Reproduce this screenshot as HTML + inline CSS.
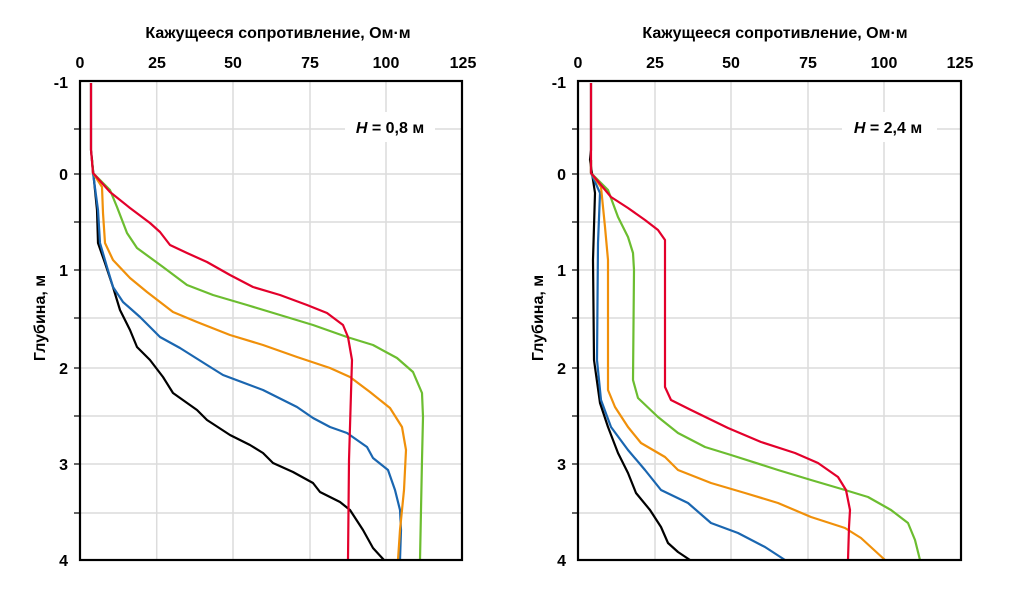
<!DOCTYPE html>
<html><head><meta charset="utf-8"><style>
body{margin:0;background:#fff}
svg{display:block}
text{font-family:"Liberation Sans",sans-serif;fill:#000}
</style></head><body>
<svg width="1022" height="594" viewBox="0 0 1022 594">
<g stroke="#dcdcdc" stroke-width="1.5">
<line x1="156.7" y1="81" x2="156.7" y2="560"/><line x1="233" y1="81" x2="233" y2="560"/><line x1="310" y1="81" x2="310" y2="560"/><line x1="386" y1="81" x2="386" y2="560"/>
<line x1="80" y1="129" x2="462" y2="129"/><line x1="80" y1="174" x2="462" y2="174"/><line x1="80" y1="222" x2="462" y2="222"/><line x1="80" y1="270" x2="462" y2="270"/><line x1="80" y1="318" x2="462" y2="318"/><line x1="80" y1="368" x2="462" y2="368"/><line x1="80" y1="416" x2="462" y2="416"/><line x1="80" y1="464" x2="462" y2="464"/><line x1="80" y1="513" x2="462" y2="513"/>
<line x1="578" y1="129" x2="961" y2="129"/><line x1="578" y1="174" x2="961" y2="174"/><line x1="578" y1="222" x2="961" y2="222"/><line x1="578" y1="270" x2="961" y2="270"/><line x1="578" y1="318" x2="961" y2="318"/><line x1="578" y1="368" x2="961" y2="368"/><line x1="578" y1="416" x2="961" y2="416"/><line x1="578" y1="464" x2="961" y2="464"/><line x1="578" y1="513" x2="961" y2="513"/>
<line x1="655" y1="81" x2="655" y2="560"/><line x1="731" y1="81" x2="731" y2="560"/><line x1="808" y1="81" x2="808" y2="560"/><line x1="884" y1="81" x2="884" y2="560"/>
</g>
<rect x="345" y="112" width="90" height="30" fill="#fff"/>
<rect x="842" y="112" width="95" height="30" fill="#fff"/>
<text x="390" y="133" font-size="16" font-weight="bold" text-anchor="middle"><tspan font-style="italic">H</tspan> = 0,8 м</text>
<text x="888" y="133" font-size="16" font-weight="bold" text-anchor="middle"><tspan font-style="italic">H</tspan> = 2,4 м</text>

<g fill="none" stroke-width="2.2" stroke-linejoin="round">
<polyline stroke="#000" points="91,83 91,150 92,160 97,210 98,243 105,263 113,287 120,310 130,330 137,347 150,360 163,377 173,393 197,410 207,420 230,435 250,445 263,453 273,463 293,472 313,483 320,492 340,502 350,510 363,530 373,548 384,560"/>
<polyline stroke="#1a66b0" points="92,160 93,173 98,210 100,243 107,267 113,287 123,302 140,317 160,337 180,348 207,365 223,375 263,390 297,407 313,418 330,427 347,433 367,447 373,458 388,470 395,490 400,510 401,530 400,560"/>
<polyline stroke="#f0900a" points="92,160 93,173 102,187 103,213 105,243 113,260 130,278 147,292 160,302 173,312 197,322 230,335 263,345 297,357 330,368 350,377 370,392 390,408 402,427 406,450 404,490 400,530 398,560"/>
<polyline stroke="#6cbd30" points="92,160 93,173 110,190 117,207 127,233 137,248 163,267 187,285 213,295 247,305 280,315 313,325 347,337 373,345 397,358 413,372 422,393 423,417 422,460 420,560"/>
<polyline stroke="#e3002b" points="91,83 91,150 93,173 110,192 130,208 150,223 160,232 170,245 187,253 207,262 230,275 253,287 280,295 307,305 327,313 343,325 348,337 352,360 351,393 349,460 348,560"/>

<polyline stroke="#000" points="591,83 591,150 590,160 595,193 593,260 594,360 600,403 608,427 618,453 628,473 636,493 650,510 661,527 668,543 678,552 690,560"/>
<polyline stroke="#1a66b0" points="591,160 591,173 600,193 598,243 597,360 601,400 611,427 628,450 645,470 661,490 688,503 711,523 738,533 765,547 785,560"/>
<polyline stroke="#f0900a" points="591,160 591,173 601,187 605,227 608,260 608,390 615,407 628,427 641,443 665,457 678,470 711,483 745,493 778,503 811,517 845,528 861,538 885,560"/>
<polyline stroke="#6cbd30" points="591,160 591,173 608,190 618,217 628,237 633,253 634,270 633,380 638,398 658,417 678,433 705,447 731,455 778,470 811,480 845,490 868,497 891,510 908,523 915,540 920,560"/>
<polyline stroke="#e3002b" points="591,83 591,150 591,173 611,197 628,208 645,220 658,230 665,240 665,260 665,387 671,400 691,410 728,428 761,442 795,453 818,463 838,477 846,490 850,510 849,527 848,560"/>
</g>

<g fill="none" stroke="#000" stroke-width="2.2">
<rect x="80" y="81" width="382" height="479"/>
<rect x="578" y="81" width="383" height="479"/>
</g>
<g stroke="#000" stroke-width="1.2">
<line x1="74" y1="129" x2="80" y2="129"/><line x1="74" y1="174" x2="80" y2="174"/><line x1="74" y1="222" x2="80" y2="222"/><line x1="74" y1="270" x2="80" y2="270"/><line x1="74" y1="318" x2="80" y2="318"/><line x1="74" y1="368" x2="80" y2="368"/><line x1="74" y1="416" x2="80" y2="416"/><line x1="74" y1="464" x2="80" y2="464"/><line x1="74" y1="513" x2="80" y2="513"/>
<line x1="572" y1="129" x2="578" y2="129"/><line x1="572" y1="174" x2="578" y2="174"/><line x1="572" y1="222" x2="578" y2="222"/><line x1="572" y1="270" x2="578" y2="270"/><line x1="572" y1="318" x2="578" y2="318"/><line x1="572" y1="368" x2="578" y2="368"/><line x1="572" y1="416" x2="578" y2="416"/><line x1="572" y1="464" x2="578" y2="464"/><line x1="572" y1="513" x2="578" y2="513"/>
</g>
<g font-size="16" font-weight="bold" text-anchor="middle">
<text x="80" y="68">0</text><text x="157" y="68">25</text><text x="233" y="68">50</text><text x="310" y="68">75</text><text x="386" y="68">100</text><text x="463" y="68">125</text>
<text x="578" y="68">0</text><text x="655" y="68">25</text><text x="731" y="68">50</text><text x="808" y="68">75</text><text x="884" y="68">100</text><text x="960" y="68">125</text>
<text x="278" y="38">Кажущееся сопротивление,  Ом·м</text>
<text x="775" y="38">Кажущееся сопротивление,  Ом·м</text>
</g>
<g font-size="16" font-weight="bold" text-anchor="end">
<text x="68" y="88">-1</text><text x="68" y="180">0</text><text x="68" y="276">1</text><text x="68" y="374">2</text><text x="68" y="470">3</text><text x="68" y="566">4</text>
<text x="566" y="88">-1</text><text x="566" y="180">0</text><text x="566" y="276">1</text><text x="566" y="374">2</text><text x="566" y="470">3</text><text x="566" y="566">4</text>
</g>
<text font-size="16" font-weight="bold" text-anchor="middle" transform="translate(45,318) rotate(-90)">Глубина,  м</text>
<text font-size="16" font-weight="bold" text-anchor="middle" transform="translate(543,318) rotate(-90)">Глубина,  м</text>
</svg>
</body></html>
